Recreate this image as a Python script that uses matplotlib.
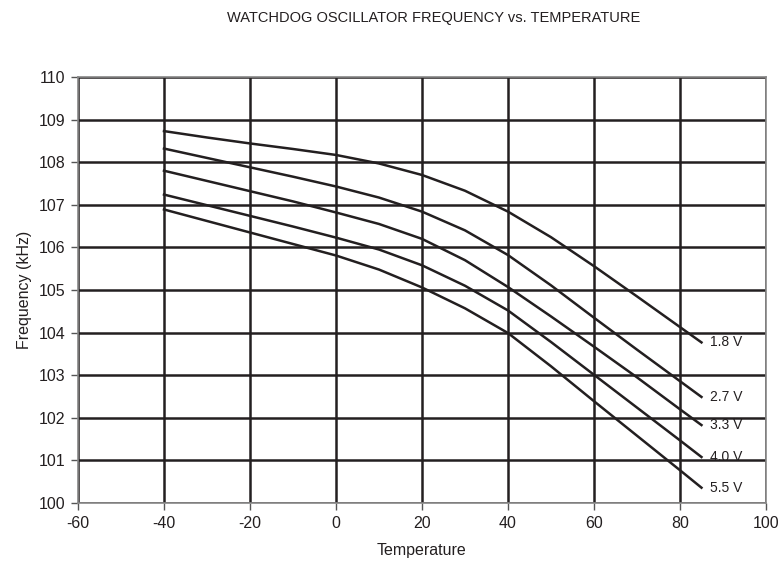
import matplotlib.pyplot as plt

plt.rcParams['font.family'] = ['Liberation Sans', 'DejaVu Sans']
plt.rcParams['axes.unicode_minus'] = False

temps = [-40, -30, -20, -10, 0, 10, 20, 30, 40, 50, 60, 70, 80, 85]

f_18 = [108.73, 108.58, 108.44, 108.31, 108.17, 107.97, 107.70, 107.33, 106.84, 106.24, 105.56, 104.85, 104.13, 103.77]
f_27 = [108.32, 108.10, 107.88, 107.66, 107.43, 107.17, 106.84, 106.40, 105.82, 105.11, 104.35, 103.60, 102.86, 102.49]
f_33 = [107.80, 107.56, 107.32, 107.08, 106.82, 106.55, 106.20, 105.70, 105.07, 104.38, 103.67, 102.95, 102.20, 101.83]
f_40 = [107.24, 106.99, 106.74, 106.49, 106.23, 105.95, 105.58, 105.10, 104.52, 103.78, 103.01, 102.24, 101.47, 101.08]
f_55 = [106.89, 106.62, 106.35, 106.08, 105.81, 105.48, 105.06, 104.57, 103.99, 103.21, 102.39, 101.58, 100.77, 100.36]

series = [f_18, f_27, f_33, f_40, f_55]
labels = ["1.8 V", "2.7 V", "3.3 V", "4.0 V", "5.5 V"]

fig = plt.figure(figsize=(7.84, 5.72), dpi=100)
ax = fig.add_axes([0.0995, 0.1206, 0.8775, 0.7448])

ax.set_xlim(-60, 100)
ax.set_ylim(100, 110)
ax.set_xticks(range(-60, 101, 20))
ax.set_yticks(range(100, 111, 1))
ax.grid(True, color='#231f20', linewidth=1.8)
ax.set_axisbelow(True)

for s, lab in zip(series, labels):
    ax.plot(temps, s, color='#231f20', linewidth=1.8)
    ax.text(temps[-1] + 2, s[-1], lab, fontsize=10, va='center', ha='left', color='#231f20')

for sp in ax.spines.values():
    sp.set_color('#888888')
    sp.set_linewidth(1.2)

ax.tick_params(colors='#231f20', labelsize=11.5, length=5, width=1, color='#555555', pad=4)
ax.set_xlabel("Temperature", fontsize=11.5, color='#231f20', labelpad=9)
ax.set_ylabel("Frequency (kHz)", fontsize=11.5, color='#231f20', labelpad=5)
fig.text(0.553, 0.968, "WATCHDOG OSCILLATOR FREQUENCY vs. TEMPERATURE",
         ha='center', va='center', fontsize=10.5, color='#231f20')

fig.savefig("out.png", dpi=100)
